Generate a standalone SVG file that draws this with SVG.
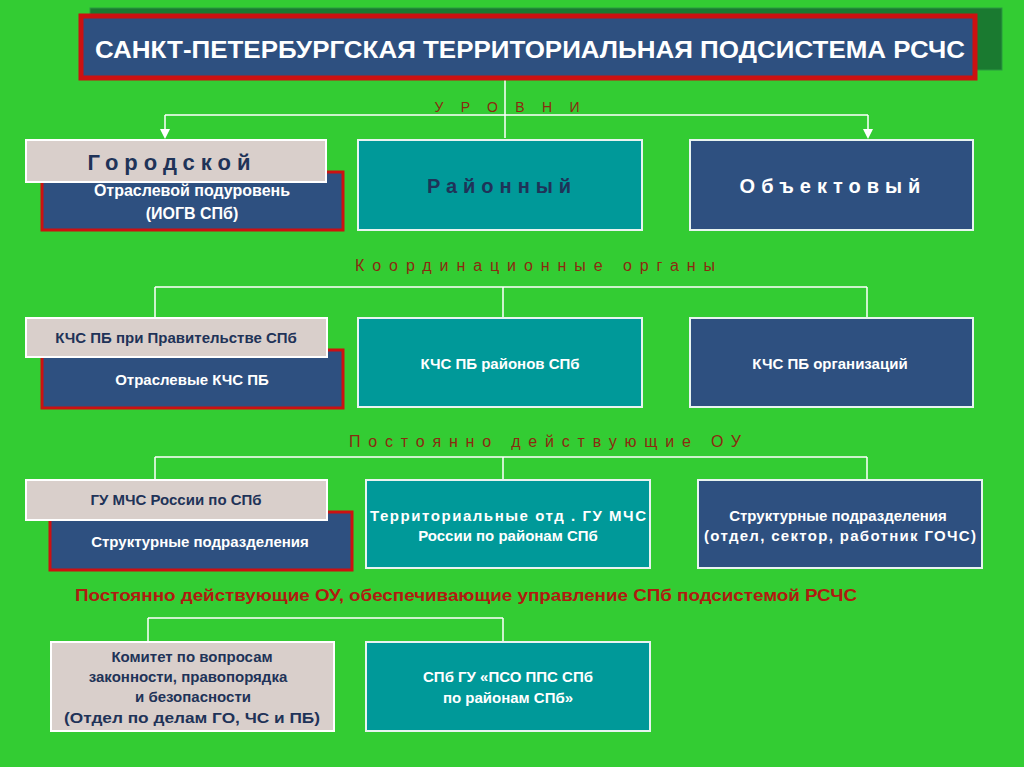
<svg xmlns="http://www.w3.org/2000/svg" width="1024" height="767" viewBox="0 0 1024 767">
<defs>
<style>
text{font-family:"Liberation Sans",Arial,sans-serif;text-anchor:middle}
.w{fill:#fff;font-size:15px;font-weight:bold}
.d{fill:#1f3358;font-size:15px;font-weight:bold}
.nv{fill:#2e5080;stroke:#e8f4f0;stroke-width:2}
.nr{fill:#2e5080;stroke:#cc1111;stroke-width:3}
.tl{fill:#009999;stroke:#e8f4f0;stroke-width:2}
.bg{fill:#d9cfcb;stroke:#ffffff;stroke-width:2}
.h{fill:#8b2a10;font-size:16px}
.c{stroke:#fff;stroke-width:1.5;fill:none}
</style>
</defs>
<rect width="1024" height="767" fill="#33cc33"/>
<g id="connectors">
<path class="c" d="M505,79 V138 M165,115 H868"/>
<path class="c" d="M165,115 V130 M868,115 V130"/>
<path d="M160,129 L170,129 L165,139 z M863,129 L873,129 L868,139 z" fill="#fff"/>
<path class="c" d="M155,287 H867 M155,287 V318 M503,287 V318 M867,287 V318"/>
<path class="c" d="M155,457 H867 M155,457 V480 M503,457 V480 M867,457 V480"/>
<path class="c" d="M148,618 H503 M148,618 V642 M503,618 V642"/>
</g>
<g id="title">
<rect x="90" y="8" width="912" height="62" fill="#1a7a30" stroke="#2a9a40"/>
<rect x="81" y="16" width="894" height="62" fill="#2e5080" stroke="#cc1111" stroke-width="5"/>
<text x="530" y="58" fill="#fff" font-size="24" font-weight="bold" textLength="870" lengthAdjust="spacingAndGlyphs">САНКТ-ПЕТЕРБУРГСКАЯ ТЕРРИТОРИАЛЬНАЯ ПОДСИСТЕМА РСЧС</text>
</g>
<text x="507" y="112" class="h" textLength="145" style="font-size:14px">УРОВНИ</text>
<g id="gorod-sub"><rect class="nr" x="42" y="172" width="301" height="58"/>
<text class="w" x="192" y="196" style="font-size:16px">Отраслевой подуровень</text><text class="w" x="192" y="219" style="font-size:16px">(ИОГВ СПб)</text></g>
<g id="gorod"><rect class="bg" x="26" y="140" width="300" height="42"/>
<text x="172" y="170" fill="#1f3358" font-size="22" font-weight="bold" letter-spacing="6">Городской</text></g>
<g id="rayon"><rect class="tl" x="358" y="140" width="284" height="90"/>
<text x="502" y="193" fill="#1f3358" font-size="20" font-weight="bold" letter-spacing="6">Районный</text></g>
<g id="obj"><rect class="nv" x="690" y="140" width="283" height="90"/>
<text x="833" y="193" fill="#fff" font-size="20" font-weight="bold" letter-spacing="6">Объектовый</text></g>
<text x="535" y="271" class="h" textLength="360">Координационные органы</text>
<g id="kchs-otr"><rect class="nr" x="42" y="350" width="301" height="58"/><text class="w" x="192" y="385">Отраслевые КЧС ПБ</text></g>
<g id="kchs-prav"><rect class="bg" x="26" y="318" width="301" height="39"/><text class="d" x="176" y="343">КЧС ПБ при Правительстве СПб</text></g>
<g id="kchs-ray"><rect class="tl" x="358" y="318" width="284" height="89"/><text class="w" x="500" y="369">КЧС ПБ районов СПб</text></g>
<g id="kchs-org"><rect class="nv" x="690" y="318" width="283" height="89"/><text class="w" x="830" y="369">КЧС ПБ организаций</text></g>
<text x="545" y="447" class="h" textLength="392">Постоянно действующие ОУ</text>
<g id="struct1"><rect class="nr" x="50" y="512" width="302" height="58"/><text class="w" x="200" y="547">Структурные подразделения</text></g>
<g id="gu"><rect class="bg" x="26" y="480" width="301" height="40"/><text class="d" x="176" y="505">ГУ  МЧС России по СПб</text></g>
<g id="terr"><rect class="tl" x="366" y="480" width="284" height="88"/><text class="w" x="508" y="521" textLength="276">Территориальные отд . ГУ  МЧС</text><text class="w" x="508" y="541">России по районам СПб</text></g>
<g id="struct2"><rect class="nv" x="698" y="480" width="284" height="88"/><text class="w" x="838" y="521">Структурные подразделения</text><text class="w" x="840" y="541" textLength="272">(отдел, сектор, работник ГОЧС)</text></g>
<text x="466" y="601" fill="#b01a10" font-size="17" font-weight="bold" textLength="782" lengthAdjust="spacingAndGlyphs">Постоянно действующие ОУ, обеспечивающие управление СПб подсистемой РСЧС</text>
<g id="komitet"><rect class="bg" x="51" y="642" width="283" height="89"/>
<text class="d" x="192" y="662">Комитет по вопросам</text><text class="d" x="188" y="682">законности, правопорядка</text><text class="d" x="193" y="702">и безопасности</text><text class="d" x="192" y="723" textLength="256" lengthAdjust="spacingAndGlyphs">(Отдел по делам ГО, ЧС и ПБ)</text></g>
<g id="pso"><rect class="tl" x="366" y="642" width="284" height="89"/>
<text class="w" x="508" y="682">СПб ГУ «ПСО ППС СПб</text><text class="w" x="508" y="703">по районам СПб»</text></g>
</svg>
